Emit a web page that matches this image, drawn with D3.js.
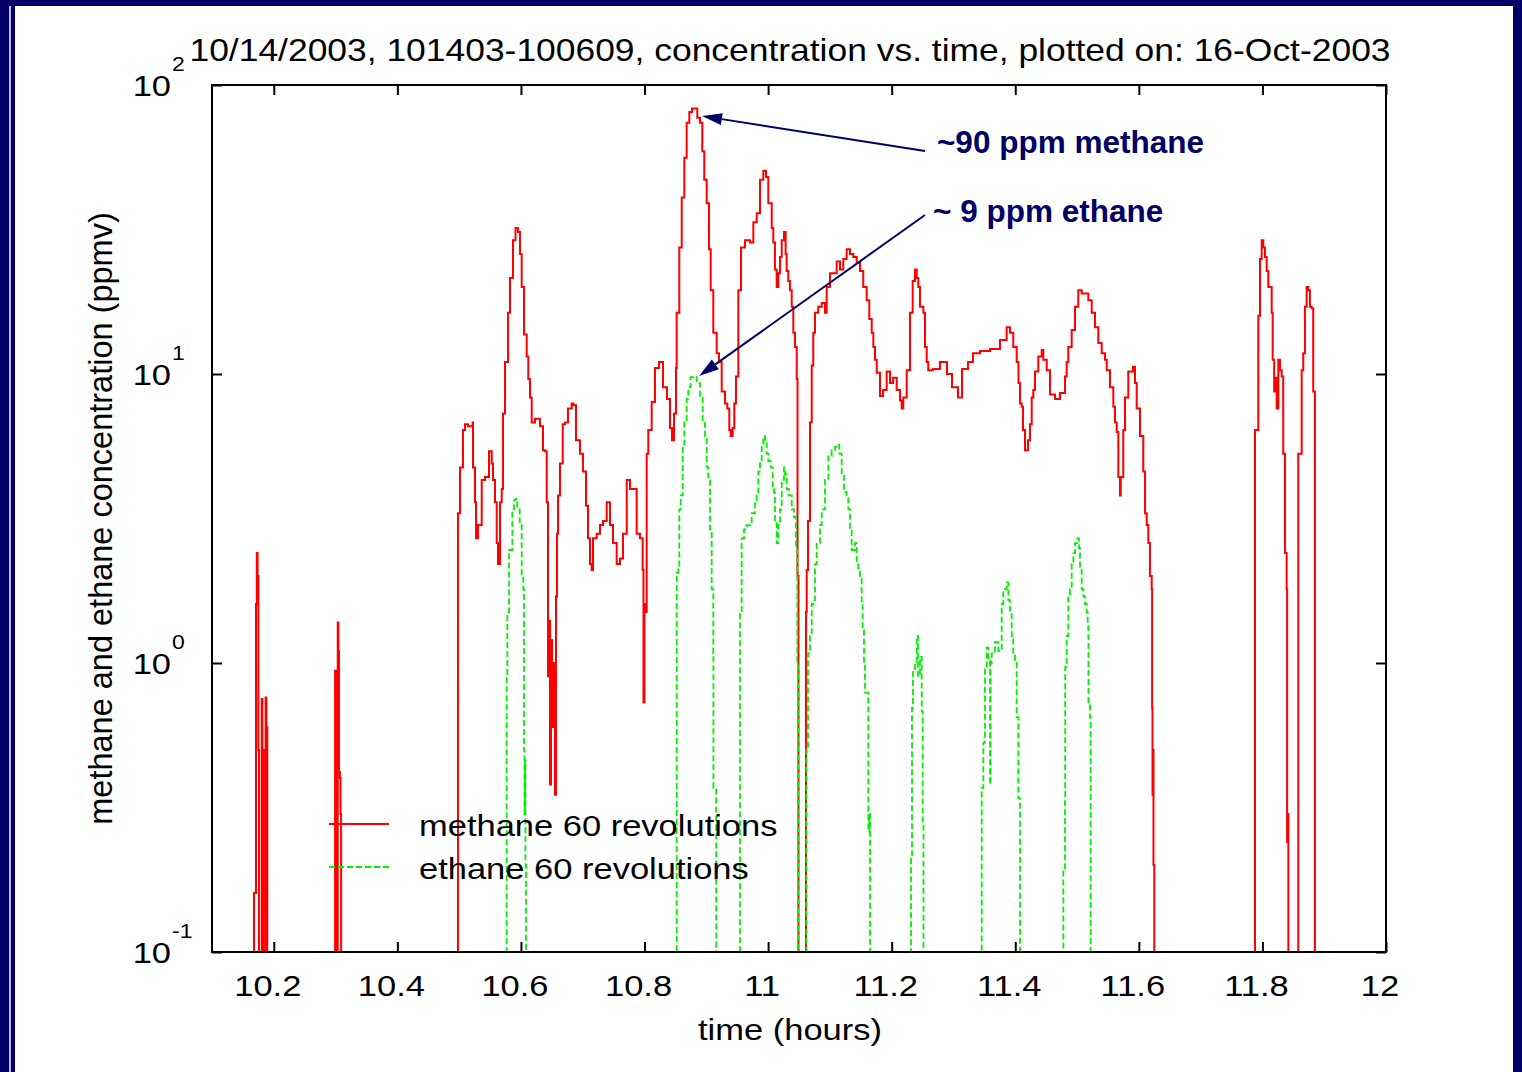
<!DOCTYPE html>
<html>
<head>
    <meta charset="utf-8">
    <script src="https://cdn.jsdelivr.net/npm/d3@7/dist/d3.min.js"></script>
    <title>concentration vs. time</title>
    <style>
        * {
            margin: 0;
            padding: 0;
        }

        body {
            background: #fff;
        }

        #chart {
            display: block;
            font-family: "Liberation Sans", Arial, Helvetica, sans-serif;
        }
    </style>
</head>
<body>
    <svg id="chart" width="1522" height="1072"></svg>
    <script>
        var title = "10/14/2003, 101403-100609, concentration vs. time, plotted on: 16-Oct-2003";
        var xLabel = "time (hours)";
        var yLabel = "methane and ethane concentration (ppmv)";
        var seriesNames = ["methane 60 revolutions", "ethane 60 revolutions"];
        var xTicks = [10.2, 10.4, 10.6, 10.8, 11, 11.2, 11.4, 11.6, 11.8, 12];
        var yTicks = [0.1, 1, 10, 100];
        var yTickExp = ["-1", "0", "1", "2"];

        // [time (h), ppmv]; 0.01 = below the plotted range
        var methane = [
            [10.1662, 0.01], [10.1680, 0.16], [10.1702, 0.16], [10.1712, 1.6], [10.1725, 2.4], [10.1738, 2.0],
            [10.1750, 0.5], [10.1760, 0.01], [10.1790, 0.01], [10.1805, 0.75], [10.1815, 0.4], [10.1825, 0.5],
            [10.1835, 0.01], [10.1855, 0.01], [10.1868, 0.76], [10.1880, 0.6], [10.1895, 0.01],
            [10.2985, 0.01], [10.2992, 0.94], [10.3005, 0.9], [10.3012, 0.01], [10.3025, 0.01], [10.3035, 1.38],
            [10.3045, 1.1], [10.3055, 0.42], [10.3070, 0.4], [10.3080, 0.3], [10.3090, 0.01],
            [10.4975, 0.01], [10.4981, 3.3], [10.5014, 4.75], [10.5062, 6.4], [10.5095, 6.7], [10.5143, 6.6],
            [10.5219, 6.8], [10.5224, 4.75], [10.5256, 3.6], [10.5273, 2.7], [10.5305, 3.0], [10.5365, 4.3],
            [10.5418, 4.4], [10.5483, 5.4], [10.5527, 4.9], [10.5548, 4.3], [10.5580, 3.6], [10.5608, 2.6],
            [10.5629, 2.2], [10.5661, 3.6], [10.5689, 4.0], [10.5710, 7.3], [10.5742, 11], [10.5791, 16.3],
            [10.5823, 21.5], [10.5871, 29], [10.5912, 32], [10.5952, 31], [10.5985, 26], [10.6012, 20],
            [10.6049, 13.7], [10.6093, 11.5], [10.6119, 9.6], [10.6146, 8.3], [10.6174, 6.8], [10.6227, 7.0],
            [10.6308, 6.6], [10.6357, 5.45], [10.6389, 5.4], [10.6417, 3.6], [10.6438, 0.9], [10.6454, 1.4],
            [10.6470, 0.38], [10.6486, 1.2], [10.6503, 0.6], [10.6519, 1.0], [10.6551, 0.35], [10.6567, 1.7],
            [10.6583, 2.8], [10.6600, 3.8], [10.6632, 4.9], [10.6676, 6.7], [10.6713, 6.8], [10.6761, 7.6],
            [10.6821, 7.9], [10.6850, 7.8], [10.6891, 5.9], [10.6956, 5.3], [10.7004, 4.6], [10.7053, 3.5],
            [10.7085, 2.7], [10.7118, 2.2], [10.7145, 2.1], [10.7166, 2.7], [10.7226, 2.8], [10.7279, 3.0],
            [10.7328, 3.1], [10.7388, 3.6], [10.7441, 3.0], [10.7490, 2.6], [10.7550, 2.2], [10.7603, 2.3],
            [10.7652, 2.8], [10.7712, 4.3], [10.7765, 4.0], [10.7814, 4.0], [10.7873, 2.8], [10.7927, 2.7],
            [10.7970, 2.1], [10.7983, 0.73], [10.7999, 1.6], [10.8016, 1.5], [10.8035, 5.3], [10.8061, 6.4],
            [10.8116, 8.0], [10.8169, 10.5], [10.8234, 11.0], [10.8299, 9.0], [10.8364, 8.2], [10.8412, 6.5],
            [10.8445, 5.9], [10.8477, 7.3], [10.8509, 10.5], [10.8520, 16.3], [10.8563, 27.4], [10.8602, 40.8],
            [10.8644, 56], [10.8682, 74], [10.8725, 80.6], [10.8768, 83], [10.8817, 83], [10.8854, 77],
            [10.8898, 74], [10.8935, 59], [10.8967, 47], [10.9006, 39], [10.9043, 27], [10.9071, 19.5],
            [10.9113, 13.9], [10.9168, 11.8], [10.9205, 11.0], [10.9249, 8.7], [10.9302, 7.9], [10.9340, 7.6],
            [10.9372, 6.4], [10.9395, 6.1], [10.9427, 6.5], [10.9453, 7.9], [10.9480, 9.8], [10.9518, 19.5],
            [10.9561, 27.4], [10.9626, 29], [10.9707, 28.5], [10.9761, 33.5], [10.9816, 36], [10.9869, 47],
            [10.9922, 50.5], [10.9966, 48], [11.0003, 39], [11.0058, 32], [11.0084, 28.5], [11.0111, 23],
            [11.0139, 20], [11.0165, 22.3], [11.0192, 25.4], [11.0220, 29], [11.0257, 31], [11.0284, 26],
            [11.0300, 22.7], [11.0327, 21], [11.0354, 19.5], [11.0382, 17.1], [11.0408, 13.9], [11.0435, 12.4],
            [11.0463, 9.6], [11.0476, 2.0], [11.0492, 0.01], [11.0597, 0.01], [11.0613, 1.5], [11.0625, 2.1],
            [11.0646, 3.1], [11.0678, 6.8], [11.0706, 10.7], [11.0731, 13.9], [11.0759, 16.3], [11.0812, 17.1],
            [11.0868, 17.6], [11.0921, 16.3], [11.0948, 20], [11.1002, 22.3], [11.1055, 22.3], [11.1110, 24.5],
            [11.1164, 23], [11.1217, 25], [11.1272, 27], [11.1325, 26], [11.1379, 25.4], [11.1434, 24.2],
            [11.1487, 22.7], [11.1540, 20], [11.1595, 18], [11.1638, 15.5], [11.1677, 13.9], [11.1703, 12.4],
            [11.1730, 11.2], [11.1758, 10.1], [11.1811, 8.4], [11.1860, 8.8], [11.1919, 10.2], [11.1973, 9.3],
            [11.2022, 9.7], [11.2081, 8.8], [11.2134, 8.1], [11.2162, 7.6], [11.2188, 8.3], [11.2243, 10.3],
            [11.2297, 16.3], [11.2340, 21], [11.2377, 23], [11.2405, 21.5], [11.2431, 20], [11.2458, 17.1],
            [11.2512, 16.3], [11.2539, 12.4], [11.2567, 11.0], [11.2592, 10.3], [11.2669, 10.4], [11.2782, 11.0],
            [11.2895, 10.0], [11.2976, 9.0], [11.3073, 8.3], [11.3138, 10.4], [11.3235, 11.0], [11.3316, 11.8],
            [11.3429, 12.0], [11.3591, 12.2], [11.3753, 13.1], [11.3861, 14.5], [11.3915, 13.9], [11.3968, 12.4],
            [11.4023, 11.0], [11.4052, 9.3], [11.4077, 7.9], [11.4104, 7.7], [11.4125, 6.4], [11.4158, 5.45],
            [11.4206, 5.9], [11.4239, 6.7], [11.4266, 8.3], [11.4292, 8.8], [11.4319, 10.2], [11.4373, 11.5],
            [11.4428, 12.1], [11.4454, 11.2], [11.4509, 10.3], [11.4562, 8.5], [11.4643, 8.2], [11.4724, 8.6],
            [11.4805, 9.8], [11.4832, 11], [11.4858, 12.4], [11.4913, 14.2], [11.4967, 17.1], [11.5020, 19.5],
            [11.5075, 19], [11.5129, 19], [11.5182, 18], [11.5237, 16.3], [11.5290, 14.5], [11.5344, 12.8],
            [11.5399, 11.8], [11.5452, 11.2], [11.5480, 10.3], [11.5533, 9.0], [11.5587, 7.7], [11.5614, 6.8],
            [11.5642, 6.3], [11.5668, 4.4], [11.5695, 3.8], [11.5706, 4.4], [11.5748, 6.4], [11.5776, 8.3],
            [11.5829, 10.2], [11.5905, 10.6], [11.5938, 9.3], [11.5965, 7.6], [11.6019, 6.1], [11.6072, 4.6],
            [11.6100, 3.3], [11.6127, 3.0], [11.6153, 2.6], [11.6180, 2.0], [11.6208, 1.8], [11.6215, 0.7],
            [11.6221, 0.35], [11.6230, 0.5], [11.6237, 0.2], [11.6250, 0.01],
            [11.7875, 0.01], [11.7880, 6.4], [11.7933, 15.9], [11.7961, 25], [11.7988, 29], [11.8014, 27.4],
            [11.8041, 25.4], [11.8069, 22.7], [11.8095, 20], [11.8150, 16.3], [11.8166, 11.2], [11.8190, 8.7],
            [11.8203, 9.7], [11.8231, 7.6], [11.8257, 11.2], [11.8284, 10.3], [11.8312, 9.8], [11.8337, 5.3],
            [11.8365, 2.4], [11.8392, 1.8], [11.8400, 0.24], [11.8413, 0.3], [11.8420, 0.01],
            [11.8567, 0.01], [11.8580, 5.3], [11.8635, 10.3], [11.8661, 11.8], [11.8688, 17.1], [11.8716, 20],
            [11.8742, 19.5], [11.8769, 17.1], [11.8796, 16.9], [11.8822, 8.7], [11.8850, 0.01]
        ];

        var ethane = [
            [10.5765, 0.01], [10.5769, 0.9], [10.5780, 1.5], [10.5807, 2.46], [10.5860, 3.4], [10.5888, 3.66],
            [10.5915, 3.7], [10.5941, 3.4], [10.5980, 3.0], [10.6012, 2.0], [10.6038, 1.8], [10.6049, 0.5],
            [10.6057, 0.3], [10.6065, 0.46], [10.6073, 0.2], [10.6082, 0.01],
            [10.8520, 0.01], [10.8521, 2.05], [10.8547, 2.15], [10.8563, 3.4], [10.8586, 3.8], [10.8618, 5.6],
            [10.8644, 6.8], [10.8682, 8.2], [10.8709, 9.0], [10.8747, 9.75], [10.8790, 9.8], [10.8845, 9.3],
            [10.8898, 8.3], [10.8941, 6.8], [10.8979, 6.1], [10.9006, 4.75], [10.9032, 4.4], [10.9060, 2.9],
            [10.9087, 1.8], [10.9113, 1.08], [10.9115, 0.37], [10.9157, 0.37], [10.9160, 0.01],
            [10.9543, 0.01], [10.9545, 1.5], [10.9572, 2.7], [10.9610, 2.9], [10.9653, 3.0], [10.9696, 3.0],
            [10.9734, 3.3], [10.9788, 3.66], [10.9816, 3.8], [10.9842, 4.6], [10.9869, 5.0], [10.9896, 5.7],
            [10.9922, 6.1], [10.9950, 5.9], [10.9977, 5.3], [11.0003, 5.0], [11.0042, 4.75], [11.0074, 4.0],
            [11.0095, 3.9], [11.0111, 3.1], [11.0139, 2.6], [11.0165, 3.0], [11.0192, 3.4], [11.0220, 4.3],
            [11.0257, 4.75], [11.0273, 4.5], [11.0300, 4.0], [11.0337, 3.8], [11.0382, 3.4], [11.0419, 3.2],
            [11.0451, 2.5], [11.0473, 1.0], [11.0485, 0.01],
            [11.0615, 0.01], [11.0620, 0.5], [11.0646, 1.08], [11.0678, 1.24], [11.0706, 1.6], [11.0731, 1.65],
            [11.0759, 2.2], [11.0786, 2.6], [11.0840, 3.0], [11.0868, 3.4], [11.0921, 4.3], [11.0975, 5.2],
            [11.1029, 5.45], [11.1083, 5.6], [11.1110, 5.7], [11.1152, 5.3], [11.1191, 4.5], [11.1228, 3.9],
            [11.1272, 3.8], [11.1298, 3.4], [11.1325, 2.9], [11.1352, 2.46], [11.1406, 2.6], [11.1434, 2.2],
            [11.1460, 2.1], [11.1487, 1.95], [11.1514, 1.6], [11.1530, 1.3], [11.1552, 1.0], [11.1568, 0.79],
            [11.1622, 0.26], [11.1638, 0.3], [11.1650, 0.01],
            [11.2295, 0.01], [11.2313, 0.21], [11.2329, 0.7], [11.2345, 0.95], [11.2377, 1.0], [11.2405, 1.24],
            [11.2426, 0.9], [11.2458, 1.05], [11.2486, 0.68], [11.2502, 0.28], [11.2515, 0.01],
            [11.3455, 0.01], [11.3457, 0.37], [11.3483, 0.53], [11.3510, 0.95], [11.3537, 1.13], [11.3564, 1.02],
            [11.3591, 0.38], [11.3600, 1.0], [11.3618, 1.08], [11.3672, 1.18], [11.3726, 1.1], [11.3780, 1.6],
            [11.3807, 1.8], [11.3861, 1.9], [11.3888, 1.65], [11.3915, 1.5], [11.3942, 1.24], [11.3968, 1.08],
            [11.3996, 1.0], [11.4023, 0.65], [11.4050, 0.34], [11.4077, 0.01],
            [11.4775, 0.01], [11.4778, 0.19], [11.4805, 0.34], [11.4808, 0.97], [11.4832, 1.24], [11.4858, 1.7],
            [11.4886, 1.8], [11.4913, 2.2], [11.4940, 2.4], [11.4967, 2.6], [11.5004, 2.7], [11.5032, 2.5],
            [11.5048, 2.1], [11.5075, 1.8], [11.5102, 1.7], [11.5129, 1.6], [11.5156, 1.5], [11.5172, 1.36],
            [11.5182, 1.24], [11.5185, 0.73], [11.5210, 0.65], [11.5220, 0.01]
        ];

        // call-outs: label anchor, arrow tail and arrow tip, in data units
        var notes = [
            { text: "~90 ppm methane", label: [11.2733, 58.2], tail: [11.2539, 59.1], tip: [10.8930, 78.1] },
            { text: "~ 9 ppm ethane", label: [11.2669, 33.6], tail: [11.2539, 35.5], tip: [10.8882, 9.84] }
        ];

        var W = 1522, H = 1072;
        var box = { left: 212, right: 1386, top: 85, bottom: 952 };
        var navy = "#000066";
        var sx = 1.15; // figure text is a bit stretched sideways in the slide

        var svg = d3.select("#chart");

        // slide frame
        svg.append("rect").attr("x", 0).attr("y", 0).attr("width", W).attr("height", 6).attr("fill", navy);
        svg.append("rect").attr("x", 0).attr("y", 0).attr("width", 15).attr("height", H).attr("fill", navy);
        svg.append("rect").attr("x", 9).attr("y", 6).attr("width", 2).attr("height", H).attr("fill", "#b8b8d8");
        svg.append("rect").attr("x", W - 9).attr("y", 0).attr("width", 9).attr("height", H).attr("fill", navy);

        var x = d3.scaleLinear().domain([10.1, 12]).range([box.left, box.right]);
        var y = d3.scaleLog().domain([0.1, 100]).range([box.bottom, box.top]);

        svg.append("clipPath").attr("id", "clip")
            .append("rect")
            .attr("x", box.left).attr("y", box.top)
            .attr("width", box.right - box.left).attr("height", box.bottom - box.top);

        function tidyAxis(g) {
            g.select(".domain").remove();
            g.selectAll("text").remove();
            g.selectAll("line").attr("stroke", "#000").attr("stroke-width", 2);
        }

        svg.append("g").attr("transform", "translate(0," + box.bottom + ")")
            .call(d3.axisBottom(x).tickValues(xTicks).tickSize(-10)).call(tidyAxis);
        svg.append("g").attr("transform", "translate(0," + box.top + ")")
            .call(d3.axisTop(x).tickValues(xTicks).tickSize(-10)).call(tidyAxis);
        svg.append("g").attr("transform", "translate(" + box.left + ",0)")
            .call(d3.axisLeft(y).tickValues(yTicks).tickSize(-10)).call(tidyAxis);
        svg.append("g").attr("transform", "translate(" + box.right + ",0)")
            .call(d3.axisRight(y).tickValues(yTicks).tickSize(-10)).call(tidyAxis);

        // data lines (the logger output is sampled, so draw it as steps)
        var line = d3.line()
            .curve(d3.curveStepAfter)
            .x(function (d) { return x(d[0]); })
            .y(function (d) { return y(d[1]); });

        var plot = svg.append("g").attr("clip-path", "url(#clip)");
        plot.append("path").datum(methane)
            .attr("d", line)
            .attr("fill", "none")
            .attr("stroke", "#ff0000")
            .attr("stroke-width", 2);
        plot.append("path").datum(ethane)
            .attr("d", line)
            .attr("fill", "none")
            .attr("stroke", "#00f000")
            .attr("stroke-width", 1.8)
            .attr("stroke-dasharray", "6,3");

        svg.append("rect")
            .attr("x", box.left).attr("y", box.top)
            .attr("width", box.right - box.left).attr("height", box.bottom - box.top)
            .attr("fill", "none").attr("stroke", "#000").attr("stroke-width", 2);

        function wideText(px, py, str, size, anchor) {
            return svg.append("text")
                .attr("transform", "translate(" + px + "," + py + ") scale(" + sx + ",1)")
                .attr("text-anchor", anchor)
                .style("font-size", size + "px")
                .attr("fill", "#000")
                .text(str);
        }

        // tick labels
        xTicks.forEach(function (t) {
            wideText(x(t) - 6, box.bottom + 44, String(t), 30, "middle");
        });
        yTicks.forEach(function (v, i) {
            wideText(box.left - 41, y(v) + 11, "10", 30, "end");
            wideText(box.left - 40, y(v) - 14, yTickExp[i], 20, "start");
        });

        // titles
        wideText(790, 61, title, 30.8, "middle");
        wideText(790, 1040, xLabel, 30, "middle");
        svg.append("text")
            .attr("transform", "translate(112," + (box.top + box.bottom) / 2 + ") rotate(-90)")
            .attr("text-anchor", "middle")
            .style("font-size", "32.5px")
            .text(yLabel);

        // legend
        var legend = svg.append("g").attr("transform", "translate(329,824)");
        legend.append("line").attr("x1", 0).attr("x2", 60).attr("y1", 0).attr("y2", 0)
            .attr("stroke", "#ff0000").attr("stroke-width", 2);
        legend.append("line").attr("x1", 0).attr("x2", 60).attr("y1", 43).attr("y2", 43)
            .attr("stroke", "#00f000").attr("stroke-width", 1.8).attr("stroke-dasharray", "6,3");
        wideText(419, 836, seriesNames[0], 30, "start");
        wideText(419, 879, seriesNames[1], 30, "start");

        // call-outs
        notes.forEach(function (n) {
            var x0 = x(n.tail[0]), y0 = y(n.tail[1]);
            var x1 = x(n.tip[0]), y1 = y(n.tip[1]);
            var a = Math.atan2(y1 - y0, x1 - x0);
            var len = 20, half = 6;
            var bx = x1 - len * Math.cos(a), by = y1 - len * Math.sin(a);
            svg.append("line")
                .attr("x1", x0).attr("y1", y0).attr("x2", bx).attr("y2", by)
                .attr("stroke", navy).attr("stroke-width", 2);
            svg.append("polygon")
                .attr("points", [
                    [x1, y1],
                    [bx + half * Math.sin(a), by - half * Math.cos(a)],
                    [bx - half * Math.sin(a), by + half * Math.cos(a)]
                ].map(function (p) { return p.join(","); }).join(" "))
                .attr("fill", navy);
            svg.append("text")
                .attr("x", x(n.label[0])).attr("y", y(n.label[1]))
                .style("font-size", "31.5px")
                .style("font-weight", "bold")
                .attr("fill", navy)
                .text(n.text);
        });
    </script>
</body>
</html>
